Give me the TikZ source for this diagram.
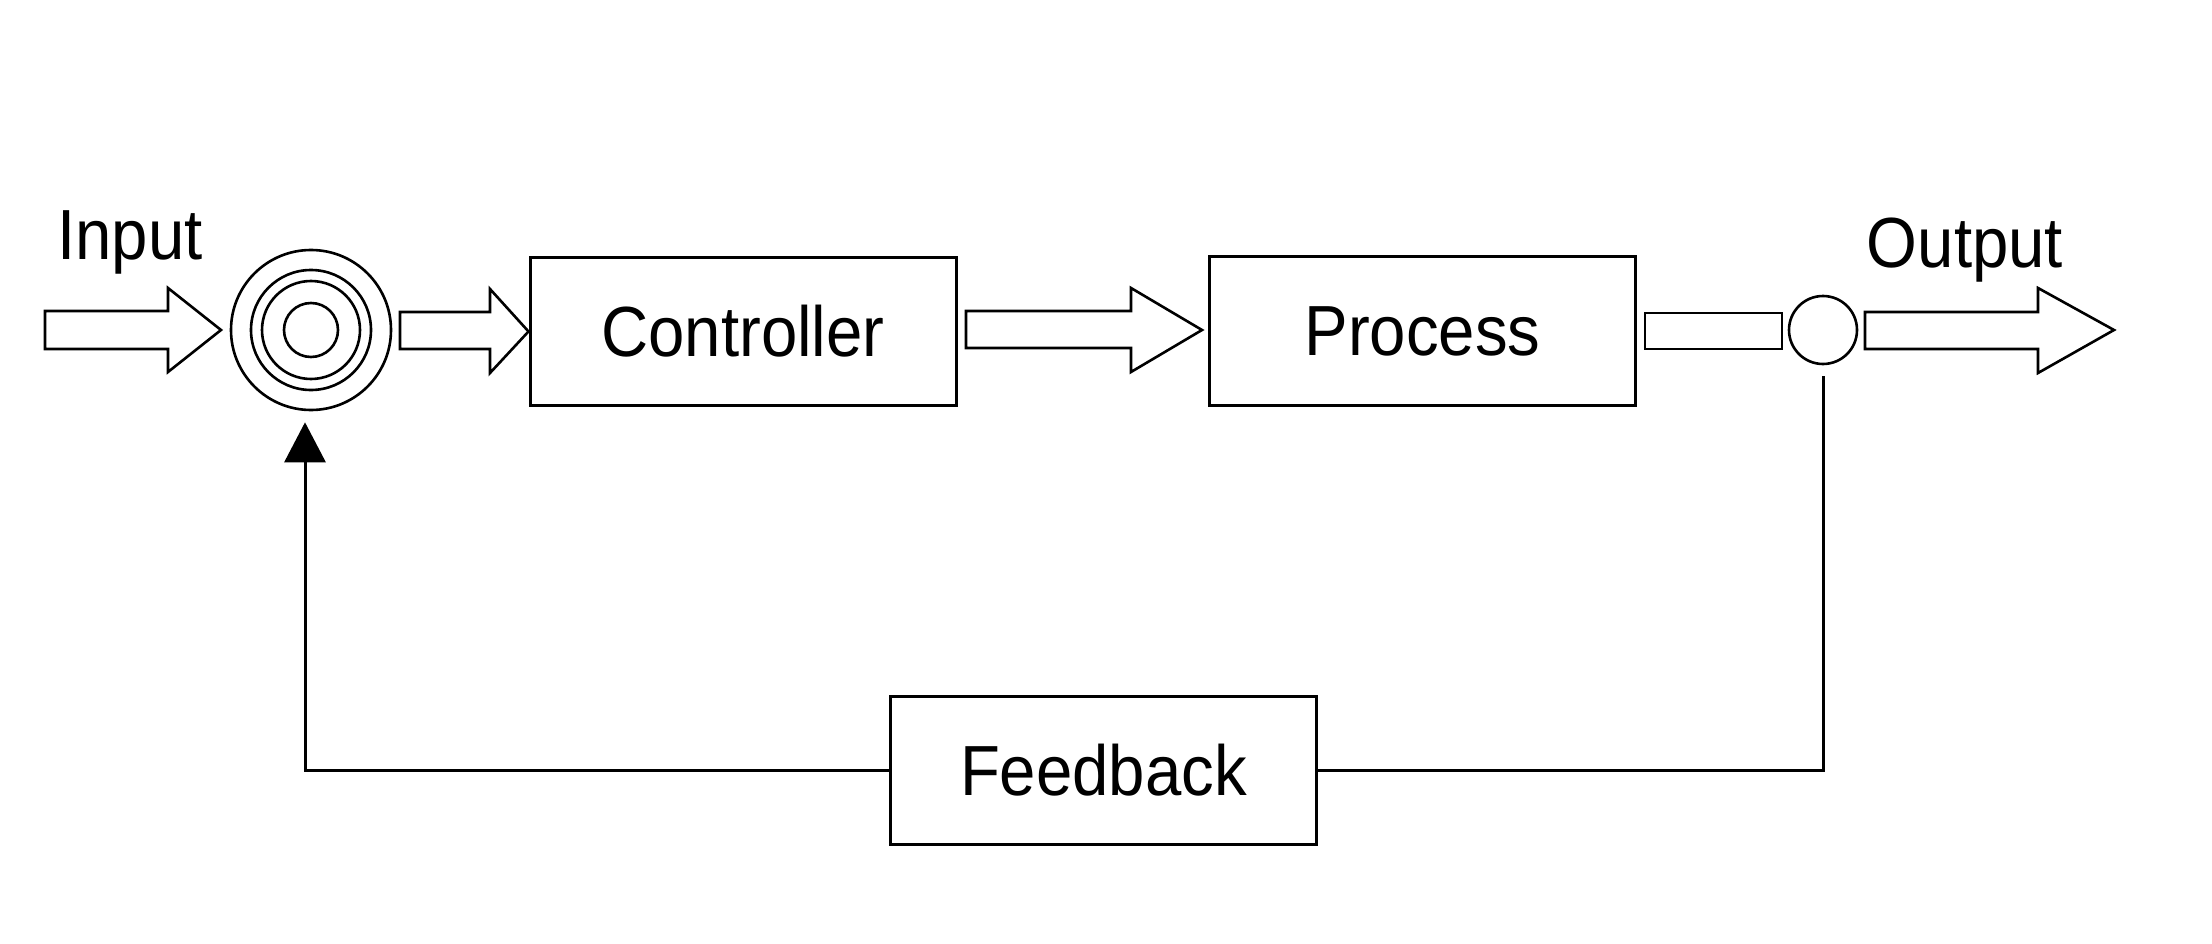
\documentclass[tikz,border=0pt]{standalone}
\usepackage{fontspec}
\setmainfont{Liberation Sans}[FakeStretch=0.92]
\usetikzlibrary{arrows.meta,calc}
\begin{document}
\begin{tikzpicture}[x=1pt,y=-1pt,
  blk/.style={draw, line width=3pt, minimum width=426pt, minimum height=148pt, inner sep=0pt, font=\fontsize{71}{80}\selectfont},
  lbl/.style={font=\fontsize{71}{80}\selectfont, anchor=base, inner sep=0pt},
  barrow/.style={draw, line width=2.6pt, line join=miter, fill=white},
  ring/.style={draw, line width=2.6pt},
  fb/.style={line width=3pt}
]
\useasboundingbox (0,0) rectangle (2212,944);
\fill[white] (0,0) rectangle (2212,944);

% blocks
\node[blk] (ctrl) at (743,331.5) {Controller};
\node[blk] (proc) at (1422.5,331) {Process};
\node[blk] (fbk) at (1103.5,770.5) {Feedback};

% summing junction
\node[circle, draw, line width=2.6pt, minimum size=160pt, inner sep=0pt] (sum) at (311,330) {};
\draw[ring] (sum.center) circle[radius=60pt];
\draw[ring] (sum.center) circle[radius=49pt];
\draw[ring] (sum.center) circle[radius=27pt];

% output take-off circle
\node[circle, draw, line width=2.6pt, minimum size=68pt, inner sep=0pt] (oc) at (1823,330) {};

% labels
\node[lbl] (inp) at (130,260) {Input};
\node[lbl] (outp) at (1965,267) {Output};

% block arrows
\draw[barrow] (45,311) -- (168,311) -- (168,288) -- (221,330) -- (168,372) -- (168,349) -- (45,349) -- cycle;
\draw[barrow] (400,312) -- (490,312) -- (490,289) -- (ctrl.west) -- (490,373) -- (490,349) -- (400,349) -- cycle;
\draw[barrow] (966,311) -- (1131,311) -- (1131,288) -- (1202,330) -- (1131,372) -- (1131,348) -- (966,348) -- cycle;
\draw[barrow] (1645,313) rectangle (1782,349);
\draw[barrow] (1865,312) -- (2038,312) -- (2038,288) -- (2114,330) -- (2038,373) -- (2038,349) -- (1865,349) -- cycle;

% feedback path
\draw[fb, shorten <=11pt] (oc.south) |- (fbk.east);
\draw[fb, -{Triangle[length=40pt,width=41pt]}, shorten >=11pt] (fbk.west) -| ($(sum.south)+(-6,0)$);
\end{tikzpicture}
\end{document}
